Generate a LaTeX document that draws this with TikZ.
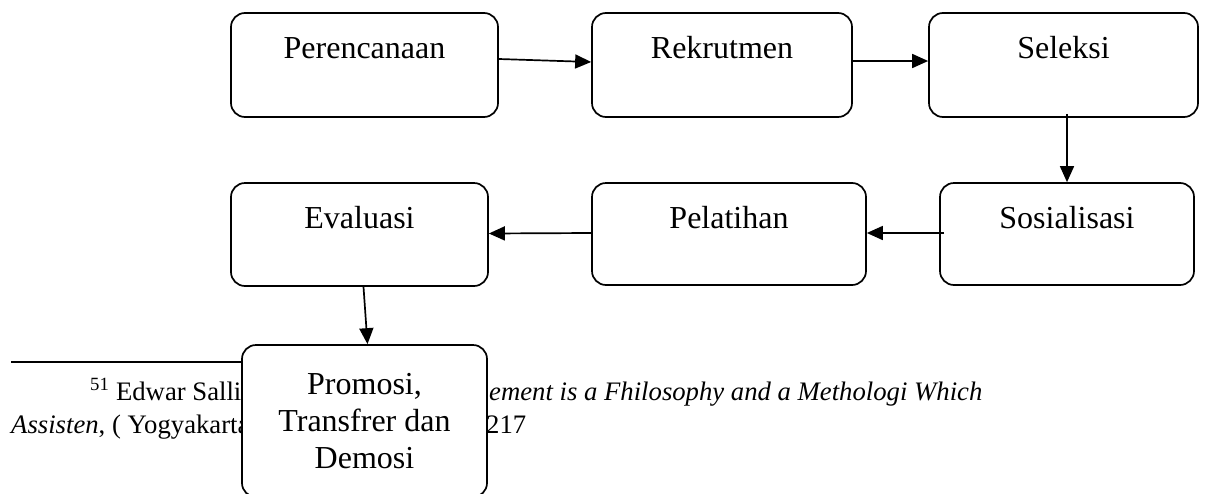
\documentclass[tikz,border=0pt]{standalone}
\usepackage{fontspec}
\setmainfont{Liberation Serif}
\usepackage{tikz}
\usetikzlibrary{arrows.meta}

\begin{document}
\begin{tikzpicture}[x=1pt, y=-1pt,
			box_style/.style={rectangle,draw=black,fill=white,line width=1.7pt,rounded corners=14pt,
				inner xsep=0pt,inner ysep=0pt,font=\fontsize{32}{37}\selectfont,text height=45pt,text depth=59pt},
			low_style/.style={box_style,text depth=57pt},
			note_style/.style={inner sep=0pt,anchor=base west,font=\fontsize{26.7}{32}\selectfont},
			edge_style/.style={draw=black,line width=1.7pt,-{Triangle[length=16pt,width=14pt]}}]
			\useasboundingbox (0,0) rectangle (1205,493);
			% footnote behind the last box
			\coordinate (rule_start) at (11,362);
			\coordinate (rule_end) at (250,362);
			\node[note_style] (fn1a) at (90,400) {\textsuperscript{51} Edwar Sallis};
			\node[note_style] (fn1b) at (489,400) {\textit{ement is a Fhilosophy and a Methologi Which}};
			\node[note_style] (fn2a) at (11,433) {\textit{Assisten}, ( Yogyakarta};
			\node[note_style] (fn2b) at (486,433) {217};
			\draw[line width=1.5pt] (rule_start) -- (rule_end);
			\node[box_style,minimum width=245pt,minimum height=152pt,text height=,text depth=,align=center] (pro) at (364.5,421)  {Promosi,\\Transfrer dan\\Demosi};
			% top row
			\node[box_style,minimum width=267pt] (per) at (364.5,65)  {Perencanaan};
			\node[box_style,minimum width=260pt] (rek) at (722,65)  {Rekrutmen};
			\node[box_style,minimum width=269pt] (sel) at (1063.5,65)  {Seleksi};
			% bottom row
			\node[low_style,minimum width=254pt] (sos) at (1067,234)  {Sosialisasi};
			\node[low_style,minimum width=274pt] (pel) at (729,234)  {Pelatihan};
			\node[low_style,minimum width=257pt,text depth=58pt] (eva) at (359.5,234.5)  {Evaluasi};
			\draw[edge_style]  ([yshift=6pt]per.east) -- ([yshift=3pt]rek.west);
			\draw[edge_style]  ([yshift=4pt]rek.east) -- ([yshift=4pt]sel.west);
			\draw[edge_style]  ([yshift=4pt]sos.north |- sel.south) -- (sos.north);
			\draw[edge_style]  ([xshift=5pt,yshift=1pt]sos.west) -- ([yshift=1pt]pel.east);
			\draw[edge_style]  ([yshift=1pt]pel.west) -- ([yshift=1pt]eva.east);
			\draw[edge_style]  ([xshift=4pt]eva.south) -- ([xshift=3pt]pro.north);
			\end{tikzpicture}
\end{document}
